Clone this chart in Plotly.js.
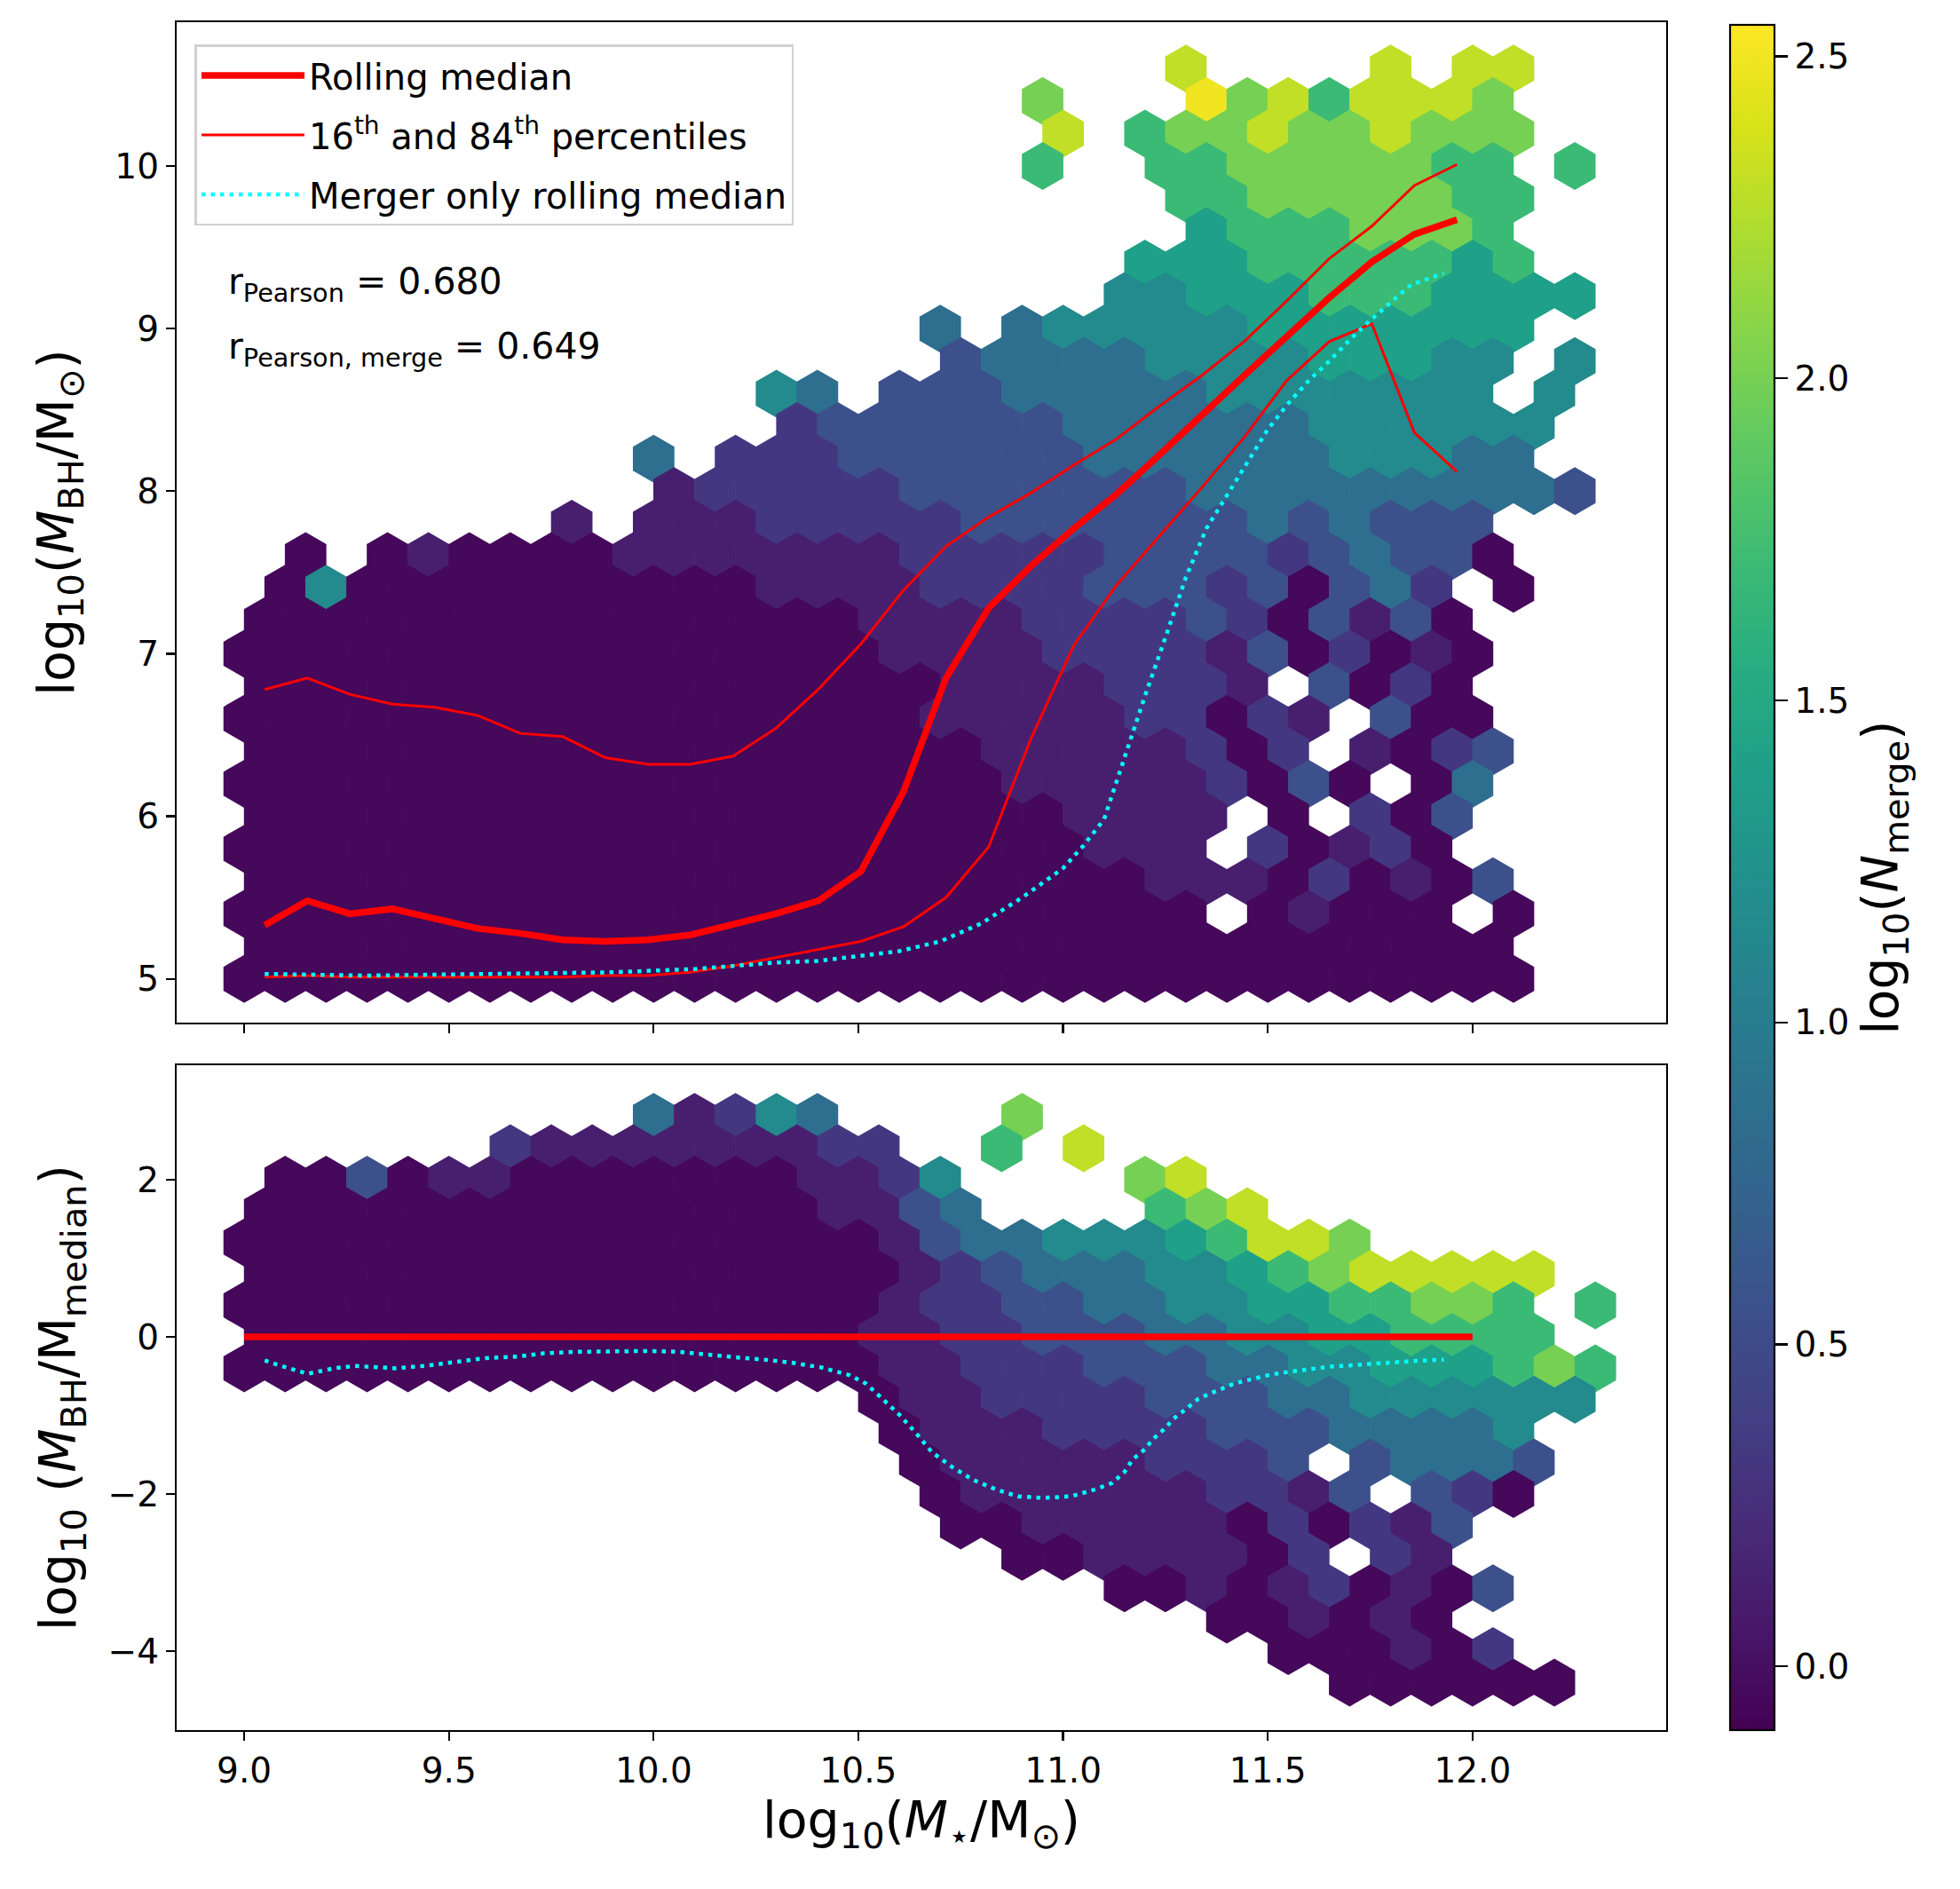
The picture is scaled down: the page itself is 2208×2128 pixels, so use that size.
<!DOCTYPE html>
<html><head><meta charset="utf-8">
<script src="https://cdn.plot.ly/plotly-3.0.1.min.js"></script>
<style>body{margin:0;background:#fff}</style>
</head><body><div id="chart" style="width:2208px;height:2128px"></div>
<script>
// ---------------- data ----------------
// hexbin cells: column centres (odd rows are offset by half a column)
const hexColX = [9.0,9.1,9.2,9.3,9.4,9.5,9.6,9.7,9.8,9.9,10.0,10.1,10.2,10.3,10.4,10.5,10.6,10.7,10.8,10.9,11.0,11.1,11.2,11.3,11.4,11.5,11.6,11.7,11.8,11.9,12.0,12.1,12.2,12.3];
// colour level of each cell ('.' = empty) -> log10(N_merge)
const levelValue = {'0':-0.05,'1':0.12,'2':0.32,'3':0.55,'4':0.85,'5':1.15,'6':1.4,'7':1.7,'8':2.0,'9':2.3,'a':2.5};

const topRowY = [10.6,10.4,10.2,10.0,9.8,9.6,9.4,9.2,9.0,8.8,8.6,8.4,8.2,8.0,7.8,7.6,7.4,7.2,7.0,6.8,6.6,6.4,6.2,6.0,5.8,5.6,5.4,5.2,5.0];
const topRows = [
"..........|..........|...9....9.|99..",
"..........|.........8|...a897999|8...",
"..........|..........|9.78898898|88..",
"..........|.........7|..77888887|7.7.",
"..........|..........|...7788888|77..",
"..........|..........|...6777888|7...",
"..........|..........|..66677777|67..",
"..........|..........|.556667776|666.",
"..........|.......4.4|5555566666|66..",
"..........|.......344|4455556665|5.5.",
"..........|...54.3334|4444555555|5.5.",
"..........|...2333333|4444445555|55..",
"..........|4.22233333|3444444555|44..",
"..........|1222223333|3334444444|443.",
"........1.|1112222233|3333343433|3...",
".0.0100001|1111112222|2333323433|0...",
".050000000|0001111222|2333230342|.0..",
"0000000000|0000011112|2223203130|....",
"0000000000|0000001111|2222130201|0...",
"0000000000|0000000111|12221.3020|....",
"0000000000|0000000111|1122021.30|0...",
"0000000000|0000000011|111202.102|3...",
"0000000000|0000000001|11112030.0|4...",
"0000000000|0000000000|1111.0.203|....",
"0000000000|0000000000|0111.20120|....",
"0000000000|0000000000|0011102010|3...",
"0000000000|0000000000|0000.01000|.0..",
"0000000000|0000000000|0000000000|0...",
"0000000000|0000000000|0000000000|00.."
];

const botRowY = [2.8,2.4,2.0,1.6,1.2,0.8,0.4,0.0,-0.4,-0.8,-1.2,-1.6,-2.0,-2.4,-2.8,-3.2,-3.6,-4.0,-4.4];
const botRows = [
"..........|41254....8|..........|....",
"......2111|111122..7.|9.........|....",
".003011000|00001125..|..89......|....",
"0000000000|00001134..|..789.....|....",
"0000000000|0000001344|55567998..|....",
"0000000000|0000001234|4455678999|99..",
"0000000000|0000001223|3445566778|87.7",
"0000000000|0000011223|3344556677|77..",
"0000000000|0000001122|2333445566|6787",
"..........|.....01122|2233344555|555.",
"..........|......0111|2222333444|45..",
"..........|......0111|112223.344|43..",
"..........|.......011|11112213.3|20..",
"..........|.......001|1111020213|....",
"..........|.........0|0111102.21|....",
"..........|..........|.001012010|3...",
"..........|..........|....001010|....",
"..........|..........|.....00010|2...",
"..........|..........|.......000|000."
];

// rolling statistics (top panel)
const rollX = [9.05,9.154,9.258,9.362,9.466,9.570,9.674,9.778,9.882,9.986,10.090,10.194,10.298,10.402,10.506,10.610,10.714,10.818,10.922,11.026,11.130,11.234,11.338,11.442,11.546,11.650,11.754,11.858,11.962];
const rollMedian = [5.33,5.48,5.40,5.43,5.37,5.31,5.28,5.24,5.23,5.24,5.27,5.33,5.40,5.48,5.66,6.15,6.85,7.28,7.54,7.77,7.98,8.22,8.47,8.71,8.95,9.19,9.41,9.58,9.67];
const roll84 = [6.78,6.85,6.75,6.69,6.67,6.62,6.51,6.49,6.36,6.32,6.32,6.37,6.54,6.78,7.06,7.39,7.66,7.84,7.99,8.16,8.32,8.52,8.71,8.92,9.17,9.43,9.63,9.88,10.01];
const roll16 = [5.01,5.02,5.01,5.01,5.01,5.01,5.01,5.01,5.02,5.02,5.04,5.08,5.13,5.18,5.23,5.32,5.50,5.81,6.48,7.05,7.42,7.72,8.02,8.33,8.68,8.92,9.03,8.36,8.12];
const mergerX = [9.05,9.3,9.6,9.9,10.1,10.2,10.3,10.4,10.5,10.6,10.7,10.8,10.9,11.0,11.05,11.1,11.15,11.2,11.25,11.3,11.35,11.4,11.45,11.5,11.55,11.6,11.65,11.7,11.75,11.8,11.85,11.93];
const mergerMedian = [5.03,5.02,5.03,5.04,5.06,5.08,5.10,5.11,5.14,5.17,5.23,5.34,5.50,5.68,5.82,5.98,6.36,6.74,7.10,7.47,7.77,7.97,8.18,8.38,8.54,8.68,8.80,8.93,9.05,9.16,9.27,9.34];

// bottom panel
const zeroX = [9.0, 12.0];
const zeroY = [0, 0];
const mergerResX = [9.05,9.09,9.155,9.22,9.27,9.37,9.44,9.51,9.59,9.67,9.73,9.81,9.91,9.99,10.06,10.13,10.2,10.27,10.34,10.41,10.48,10.52,10.56,10.6,10.64,10.68,10.73,10.78,10.84,10.89,10.95,11.02,11.08,11.12,11.15,11.17,11.2,11.22,11.25,11.27,11.3,11.33,11.36,11.39,11.42,11.46,11.49,11.53,11.57,11.61,11.65,11.71,11.78,11.85,11.93];
const mergerRes = [-0.30,-0.37,-0.47,-0.40,-0.37,-0.40,-0.37,-0.32,-0.27,-0.25,-0.21,-0.19,-0.18,-0.18,-0.19,-0.23,-0.26,-0.29,-0.33,-0.39,-0.49,-0.60,-0.80,-0.99,-1.22,-1.47,-1.66,-1.82,-1.95,-2.03,-2.05,-2.03,-1.94,-1.86,-1.72,-1.56,-1.43,-1.30,-1.16,-1.04,-0.92,-0.79,-0.72,-0.65,-0.59,-0.54,-0.50,-0.46,-0.43,-0.40,-0.38,-0.36,-0.33,-0.31,-0.29];

const cbTicks = [0, 0.5, 1.0, 1.5, 2.0, 2.5];
const xTicks = [9.0, 9.5, 10.0, 10.5, 11.0, 11.5, 12.0];

// ---------------- build ----------------
const HALF_SHIFT = 0.05;
function cells(rows, rowY) {
  const xs = [], ys = [], cs = [];
  const n = rows.length;
  rows.forEach((rowStr, k) => {
    const row = rowStr.replace(/\|/g, '');
    const shifted = ((n - 1 - k) % 2) === 1;
    for (let i = 0; i < row.length && i < hexColX.length; i++) {
      const ch = row[i];
      if (!(ch in levelValue)) continue;
      xs.push(+(hexColX[i] + (shifted ? HALF_SHIFT : 0)).toFixed(3));
      ys.push(rowY[k]);
      cs.push(levelValue[ch]);
    }
  });
  return {xs, ys, cs};
}
const T = cells(topRows, topRowY);
const B = cells(botRows, botRowY);

const FONT = 'DejaVu Sans';
const CMIN = -0.099, CMAX = 2.549;
const hexSize = 54;

const colorbar = {
  x: 1.0429, xref: 'paper', xanchor: 'left', xpad: 0,
  y: 0, yref: 'paper', yanchor: 'bottom', ypad: 0,
  len: 0.9984, lenmode: 'fraction', thickness: 50,
  outlinewidth: 2.2, outlinecolor: 'black',
  tickvals: cbTicks, ticktext: cbTicks.map(v => v.toFixed(1)),
  ticks: 'outside', ticklen: 14, tickwidth: 2.2, tickcolor: 'black',
  tickfont: {family: FONT, size: 39, color: 'black'},
  title: {text: 'log<sub>10</sub>(<i>N</i><sub>merge</sub>)', side: 'right', font: {family: FONT, size: 57, color: 'black'}}
};

const traces = [
  {type: 'scatter', mode: 'markers', x: T.xs, y: T.ys, xaxis: 'x', yaxis: 'y', hoverinfo: 'skip', showlegend: false,
   marker: {symbol: 'hexagon', size: hexSize, color: T.cs, colorscale: 'Viridis', cmin: CMIN, cmax: CMAX, line: {width: 0}, showscale: true, colorbar: colorbar}},
  {type: 'scatter', mode: 'markers', x: B.xs, y: B.ys, xaxis: 'x2', yaxis: 'y2', hoverinfo: 'skip', showlegend: false,
   marker: {symbol: 'hexagon', size: hexSize, color: B.cs, colorscale: 'Viridis', cmin: CMIN, cmax: CMAX, line: {width: 0}, showscale: false}},
  {type: 'scatter', mode: 'lines', x: rollX, y: rollMedian, xaxis: 'x', yaxis: 'y', name: 'Rolling median', legendgroup: 'g1',
   line: {color: '#ff0000', width: 7.5}},
  {type: 'scatter', mode: 'lines', x: rollX, y: roll84, xaxis: 'x', yaxis: 'y', name: '16<sup>th</sup> and 84<sup>th</sup> percentiles', legendgroup: 'g2',
   line: {color: '#ff0000', width: 3}},
  {type: 'scatter', mode: 'lines', x: rollX, y: roll16, xaxis: 'x', yaxis: 'y', name: '16th', legendgroup: 'g2', showlegend: false,
   line: {color: '#ff0000', width: 3}},
  {type: 'scatter', mode: 'lines', x: mergerX, y: mergerMedian, xaxis: 'x', yaxis: 'y', name: 'Merger only rolling median', legendgroup: 'g3',
   line: {color: '#00ffff', width: 4.5, dash: '4.5px,6px'}},
  {type: 'scatter', mode: 'lines', x: zeroX, y: zeroY, xaxis: 'x2', yaxis: 'y2', showlegend: false,
   line: {color: '#ff0000', width: 7.5}},
  {type: 'scatter', mode: 'lines', x: mergerResX, y: mergerRes, xaxis: 'x2', yaxis: 'y2', showlegend: false,
   line: {color: '#00ffff', width: 4.5, dash: '4.5px,6px'}}
];

const axisCommon = {
  showgrid: false, zeroline: false, showline: true, mirror: true, linewidth: 2.2, linecolor: 'black',
  ticks: 'outside', ticklen: 10, tickwidth: 2.2, tickcolor: 'black',
  tickfont: {family: FONT, size: 39, color: 'black'}
};

const layout = {
  width: 2208, height: 2128,
  margin: {l: 198.5, r: 331, t: 25, b: 179, pad: 0},
  paper_bgcolor: 'white', plot_bgcolor: 'white',
  font: {family: FONT, color: 'black'},
  xaxis: Object.assign({}, axisCommon, {domain: [0, 1], range: [8.835, 12.473], anchor: 'y',
    tickvals: xTicks, showticklabels: false}),
  yaxis: Object.assign({}, axisCommon, {domain: [0.4142, 1], range: [4.73, 10.885], anchor: 'x',
    tickvals: [5, 6, 7, 8, 9, 10], ticktext: ['5', '6', '7', '8', '9', '10'],
    title: {text: 'log<sub>10</sub>(<i>M</i><sub>BH</sub>/M<sub>⊙</sub>)', font: {family: FONT, size: 57, color: 'black'}, standoff: 28}}),
  xaxis2: Object.assign({}, axisCommon, {domain: [0, 1], range: [8.835, 12.473], anchor: 'y2',
    tickvals: xTicks, ticktext: xTicks.map(v => v.toFixed(1)),
    title: {text: 'log<sub>10</sub>(<i>M</i><sub>⋆</sub>/M<sub>⊙</sub>)', font: {family: FONT, size: 57, color: 'black'}, standoff: 14}}),
  yaxis2: Object.assign({}, axisCommon, {domain: [0, 0.3893], range: [-5.006, 3.458], anchor: 'x2',
    tickvals: [-4, -2, 0, 2], ticktext: ['\u22124', '\u22122', '0', '2'],
    title: {text: 'log<sub>10</sub> (<i>M</i><sub>BH</sub>/M<sub>median</sub>)', font: {family: FONT, size: 57, color: 'black'}, standoff: 18}}),
  legend: {x: 0.0122, y: 0.987, xanchor: 'left', yanchor: 'top', xref: 'paper', yref: 'paper',
    bgcolor: 'rgba(255,255,255,0.85)', bordercolor: '#d0d0d0', borderwidth: 2.5,
    font: {family: FONT, size: 40, color: 'black'}, traceorder: 'grouped', tracegroupgap: 12, itemwidth: 116},
  annotations: [
    {xref: 'x', yref: 'y', x: 8.957, y: 9.274, xanchor: 'left', yanchor: 'middle', showarrow: false,
     text: 'r<sub>Pearson</sub> = 0.680', font: {family: FONT, size: 41, color: 'black'}},
    {xref: 'x', yref: 'y', x: 8.957, y: 8.875, xanchor: 'left', yanchor: 'middle', showarrow: false,
     text: 'r<sub>Pearson, merge</sub> = 0.649', font: {family: FONT, size: 41, color: 'black'}}
  ]
};

Plotly.newPlot('chart', traces, layout, {displayModeBar: false, staticPlot: true});
</script></body></html>
